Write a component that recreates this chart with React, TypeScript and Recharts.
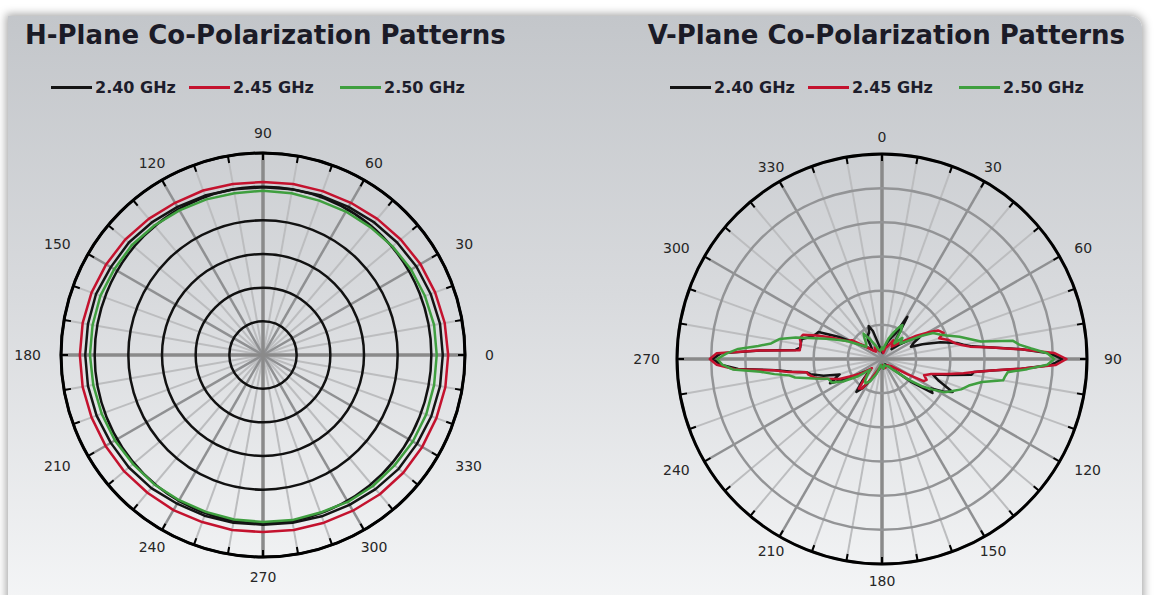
import { PolarAngleAxis, PolarGrid, PolarRadiusAxis, Radar, RadarChart } from "recharts"

// --- data -----------------------------------------------------------------

const FREQS = ["2.40 GHz", "2.45 GHz", "2.50 GHz"]
const KEYS = ["f240", "f245", "f250"]
const COLORS = ["#141414", "#c4122e", "#3f9f3f"]

// radial scale in dB, one ring per 5 dB
const RING_TICKS = [-30, -25, -20, -15, -10, -5, 0]
// angle ticks every 10 deg, labelled every 30 deg
const ANGLE_TICKS = [
  0, 10, 20, 30, 40, 50, 60, 70, 80, 90, 100, 110, 120, 130, 140, 150, 160, 170,
  180, 190, 200, 210, 220, 230, 240, 250, 260, 270, 280, 290, 300, 310, 320, 330, 340, 350,
]

// H-plane: nearly omni, slightly wider along 0/180
const H_ANGLES = [
  0, 10, 20, 30, 40, 50, 60, 70, 80, 90, 100, 110, 120, 130, 140, 150, 160, 170,
  180, 190, 200, 210, 220, 230, 240, 250, 260, 270, 280, 290, 300, 310, 320, 330, 340, 350,
]
const H_240 = [
  -3.3, -3.3, -3.5, -3.7, -4.0, -4.3, -4.6, -4.8, -5.0, -5.1, -5.0, -4.8, -4.6, -4.3, -4.0, -3.9, -3.6, -3.6,
  -3.6, -3.6, -3.7, -3.9, -4.0, -4.2, -4.5, -4.6, -4.7, -4.8, -4.7, -4.5, -4.3, -4.0, -3.7, -3.6, -3.4, -3.3,
]
const H_245 = [
  -2.5, -2.6, -2.8, -3.0, -3.3, -3.6, -3.9, -4.1, -4.2, -4.3, -4.2, -4.0, -3.9, -3.6, -3.3, -3.1, -2.9, -2.8,
  -2.8, -2.8, -2.9, -3.0, -3.1, -3.3, -3.4, -3.6, -3.6, -3.7, -3.6, -3.5, -3.3, -3.0, -2.8, -2.7, -2.6, -2.5,
]
const H_250 = [
  -4.2, -4.2, -4.4, -4.6, -4.9, -5.2, -5.4, -5.6, -5.6, -5.6, -5.6, -5.4, -5.2, -4.9, -4.6, -4.5, -4.3, -4.3,
  -4.3, -4.4, -4.5, -4.6, -4.8, -4.9, -5.1, -5.2, -5.2, -5.2, -5.1, -5.1, -4.8, -4.6, -4.5, -4.3, -4.2, -4.2,
]

// V-plane: narrow main lobes at 90/270 plus side-lobe spikes
const V_ANGLES = [
  0, 6, 12, 18, 24, 28, 31, 34, 38, 44,
  50, 56, 60, 63, 67, 70, 74, 78, 80, 82,
  84, 86, 88, 90, 92, 94, 96, 98, 100, 103,
  107, 111, 115, 118, 121, 124, 128, 134, 140, 150,
  160, 170, 180, 190, 200, 208, 214, 218, 222, 228,
  234, 240, 245, 250, 254, 258, 260, 262, 264, 266,
  268, 270, 272, 274, 276, 278, 281, 284, 287, 290,
  293, 297, 302, 308, 314, 320, 324, 328, 334, 338,
  342, 348, 354,
]
const V_240 = [
  -28.8, -29.1, -28.6, -27.4, -26.5, -25.7, -22.8, -25.7, -27.1, -28.0,
  -26.8, -24.8, -23.7, -24.8, -25.4, -23.7, -21.1, -18.8, -17.9, -16.7,
  -13.8, -9.5, -5.5, -3.6, -5.2, -9.5, -13.8, -16.4, -16.7, -19.6,
  -22.2, -21.1, -18.6, -19.9, -21.6, -21.1, -24.5, -28.0, -28.8, -29.1,
  -28.8, -28.6, -29.1, -28.8, -28.0, -26.5, -24.8, -23.9, -25.7, -27.7,
  -26.8, -24.2, -21.6, -23.4, -21.1, -19.3, -18.8, -16.7, -14.4, -8.9,
  -6.4, -5.2, -6.4, -12.1, -17.3, -17.9, -17.9, -17.9, -19.0, -19.6,
  -19.9, -22.8, -25.7, -27.1, -28.0, -27.4, -26.5, -26.0, -25.7, -24.8,
  -25.7, -28.0, -28.8,
]
const V_245 = [
  -28.6, -28.8, -29.1, -28.3, -28.0, -27.4, -26.8, -27.1, -27.7, -27.1,
  -26.0, -23.9, -22.2, -20.8, -20.2, -21.1, -19.9, -19.0, -18.2, -17.0,
  -13.8, -9.7, -4.8, -3.0, -4.6, -9.7, -13.8, -16.4, -17.9, -20.2,
  -22.5, -23.4, -22.8, -23.1, -25.7, -27.4, -28.3, -28.6, -28.8, -28.8,
  -28.6, -28.8, -29.1, -28.8, -28.3, -26.8, -24.8, -24.5, -26.3, -28.0,
  -26.5, -25.1, -23.1, -21.6, -19.9, -19.0, -18.8, -16.2, -14.1, -8.4,
  -5.8, -4.8, -5.8, -12.0, -17.9, -17.9, -17.9, -17.6, -17.9, -19.9,
  -21.9, -24.2, -24.8, -27.1, -28.3, -28.6, -28.3, -28.0, -28.3, -28.6,
  -28.8, -28.8, -28.6,
]
const V_250 = [
  -28.3, -28.6, -28.0, -26.8, -25.7, -24.8, -24.2, -25.1, -27.1, -25.7,
  -26.5, -25.1, -23.1, -21.6, -20.8, -19.9, -18.2, -16.4, -15.3, -10.7,
  -9.8, -8.1, -5.8, -4.8, -5.8, -8.7, -11.5, -11.8, -12.0, -15.0,
  -16.7, -17.6, -18.8, -19.6, -21.3, -22.8, -25.1, -27.7, -28.6, -28.8,
  -29.1, -28.6, -28.8, -29.1, -27.7, -26.3, -25.7, -26.0, -26.8, -27.7,
  -25.7, -23.4, -21.9, -21.6, -19.6, -17.0, -16.2, -14.1, -12.1, -8.1,
  -6.6, -5.9, -7.2, -8.9, -11.8, -13.6, -14.7, -17.0, -19.6, -21.3,
  -22.8, -24.2, -26.0, -27.1, -26.8, -26.0, -25.4, -26.5, -27.7, -28.3,
  -28.6, -28.8, -28.6,
]

const hData = H_ANGLES.map((angle, i) => ({ angle, f240: H_240[i], f245: H_245[i], f250: H_250[i] }))
const vData = V_ANGLES.map((angle, i) => ({ angle, f240: V_240[i], f245: V_245[i], f250: V_250[i] }))

// grid spoke groups (angle sets are symmetric, so they suit both orientations)
const FINE_SPOKES = ANGLE_TICKS.filter((a) => a % 30 !== 0)
const MAJOR_SPOKES = ANGLE_TICKS.filter((a) => a % 30 === 0 && a % 90 !== 0)
const AXIS_SPOKES = ANGLE_TICKS.filter((a) => a % 90 === 0)

const FONT = "'DejaVu Sans', Verdana, sans-serif"
const SIZE = 520

// --- pieces ---------------------------------------------------------------

function AngleTick(props: any) {
  const { x, y, payload, gap, tickSize } = props
  if (payload.value % 30 !== 0) return <g />
  const rad = (-payload.coordinate * Math.PI) / 180
  const c = Math.cos(rad)
  const s = Math.sin(rad)
  const d = tickSize + gap
  const anchor = c > 0.7 ? "start" : c < -0.7 ? "end" : "middle"
  return (
    <text
      x={x + d * c}
      y={y + d * s}
      dy="0.36em"
      textAnchor={anchor}
      fontFamily={FONT}
      fontSize={14}
      fill="#262626"
    >
      {payload.value}
    </text>
  )
}

interface PanelProps {
  data: any[]
  left: number
  top: number
  radius: number
  startAngle: number
  endAngle: number
  ringStroke: string
  labelGap: number
}

function PolarPanel({ data, left, top, radius, startAngle, endAngle, ringStroke, labelGap }: PanelProps) {
  const tickSize = 7
  return (
    <div style={{ position: "absolute", left, top, width: SIZE, height: SIZE }}>
      <RadarChart
        width={SIZE}
        height={SIZE}
        data={data}
        cx={SIZE / 2}
        cy={SIZE / 2}
        outerRadius={radius}
        startAngle={startAngle}
        endAngle={endAngle}
        margin={{ top: 0, right: 0, bottom: 0, left: 0 }}
      >
        <PolarGrid polarRadius={[]} polarAngles={FINE_SPOKES} stroke="#bcbdbf" strokeWidth={2} />
        <PolarGrid polarRadius={[]} polarAngles={MAJOR_SPOKES} stroke="#8f9092" strokeWidth={2.5} />
        <PolarGrid polarRadius={[]} polarAngles={AXIS_SPOKES} stroke="#8a8a8a" strokeWidth={3.5} />
        <PolarGrid gridType="circle" radialLines={false} polarAngles={[]} stroke={ringStroke} strokeWidth={2.5} />
        <PolarRadiusAxis
          type="number"
          domain={[-30, 0]}
          ticks={RING_TICKS}
          tickCount={7}
          allowDataOverflow
          tick={false}
          axisLine={false}
        />
        <PolarAngleAxis
          type="number"
          dataKey="angle"
          domain={[0, 360]}
          ticks={ANGLE_TICKS}
          allowDataOverflow
          axisLineType="circle"
          axisLine={{ stroke: "#000", strokeWidth: 3 }}
          orientation="inner"
          tickSize={tickSize}
          tickLine={{ stroke: "#000", strokeWidth: 2 }}
          tick={(p: any) => <AngleTick {...p} gap={labelGap} tickSize={tickSize} />}
        />
        {KEYS.map((k, i) => (
          <Radar
            key={k}
            dataKey={k}
            name={FREQS[i]}
            stroke={COLORS[i]}
            strokeWidth={2.5}
            strokeLinejoin="round"
            fill="none"
            fillOpacity={0}
            dot={false}
            isAnimationActive={false}
          />
        ))}
      </RadarChart>
    </div>
  )
}

const ITEM_WIDTHS = [138, 151, 130]

function Legend({ left }: { left: number }) {
  return (
    <div style={{ position: "absolute", left, top: 78, display: "flex", alignItems: "center", height: 18 }}>
      {FREQS.map((f, i) => (
        <div key={f} style={{ display: "flex", alignItems: "center", width: ITEM_WIDTHS[i] }}>
          <span style={{ display: "inline-block", width: 41, height: 3, background: COLORS[i] }} />
          <span
            style={{
              marginLeft: 3,
              fontFamily: FONT,
              fontWeight: "bold",
              fontSize: 16,
              color: "#1d1d2b",
              whiteSpace: "nowrap",
            }}
          >
            {f}
          </span>
        </div>
      ))}
    </div>
  )
}

const titleStyle = {
  position: "absolute" as const,
  top: 20,
  fontFamily: FONT,
  fontWeight: "bold",
  fontSize: 26,
  lineHeight: "30px",
  color: "#1b1b27",
  whiteSpace: "nowrap" as const,
}

export default function App() {
  return (
    <div
      style={{
        position: "absolute",
        left: 0,
        top: 0,
        width: 1154,
        height: 595,
        overflow: "hidden",
        background: "#ffffff",
      }}
    >
      <div
        style={{
          position: "absolute",
          left: 8,
          top: 16,
          width: 1134,
          height: 620,
          background: "linear-gradient(to bottom, #c3c6ca 0%, #d8dadd 45%, #f7f8f9 100%)",
          boxShadow: "0 0 9px 2px rgba(0,0,0,0.35)",
          borderTopRightRadius: 12,
        }}
      />
      <div style={{ ...titleStyle, left: 25 }}>H-Plane Co-Polarization Patterns</div>
      <div style={{ ...titleStyle, right: 29 }}>V-Plane Co-Polarization Patterns</div>
      <Legend left={51} />
      <Legend left={670} />
      <PolarPanel
        data={hData}
        left={263 - SIZE / 2}
        top={355 - SIZE / 2}
        radius={202}
        startAngle={0}
        endAngle={360}
        ringStroke="#111111"
        labelGap={20}
      />
      <PolarPanel
        data={vData}
        left={882 - SIZE / 2}
        top={359 - SIZE / 2}
        radius={205}
        startAngle={90}
        endAngle={-270}
        ringStroke="#939496"
        labelGap={17}
      />
    </div>
  )
}
